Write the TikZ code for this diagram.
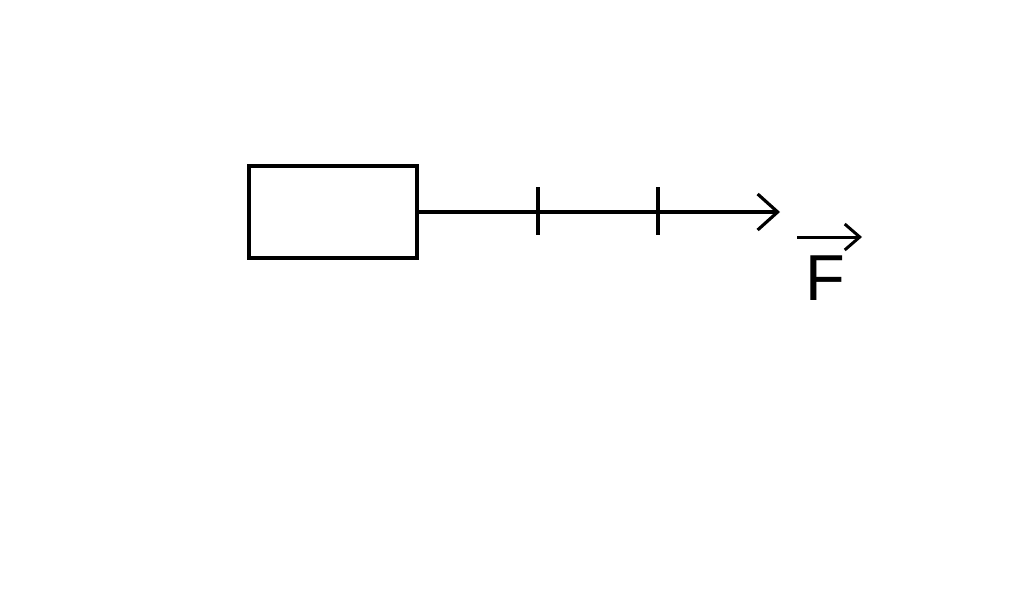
\documentclass[tikz,border=0pt]{standalone}
\usepackage{fontspec}
\setmainfont{Liberation Sans}
\usepackage{tikz}
\usetikzlibrary{arrows.meta, positioning, calc}

\begin{document}
\begin{tikzpicture}[ x = 0.02cm
                   , y = -0.02cm
                   , line width = 1.8pt
                   , every node/.style = { inner sep = 0pt }
                   , force/.style = { -{Straight Barb[length=0.4cm, width=0.72cm, line width=1.8pt]} }
                   , vecarrow/.style = { -{Straight Barb[length=0.3cm, width=0.52cm, line width=1.7pt]}, line width = 1.7pt }
                   , tick/.style = { line width = 1.8pt }
                   ]

  \useasboundingbox (0,0) rectangle (1024,589);

  \node (block) [draw, minimum width = 3.36cm, minimum height = 1.84cm, line width = 1.8pt]
    at (333,212) {};
  \coordinate (tip) at (780,212);

  \draw[force] (block.east) -- (tip);

  % tick marks on the rope
  \foreach \x in {538, 658}
    \draw[tick] (\x,187) -- (\x,235);

  \node (force) [anchor = base west, font = \fontsize{37}{40}\selectfont] at (804,300) {F};
  \coordinate (vecstart) at (797,237);
  \coordinate (vecend) at (862,237);
  \draw[vecarrow] (vecstart) -- (vecend);

\end{tikzpicture}
\end{document}
